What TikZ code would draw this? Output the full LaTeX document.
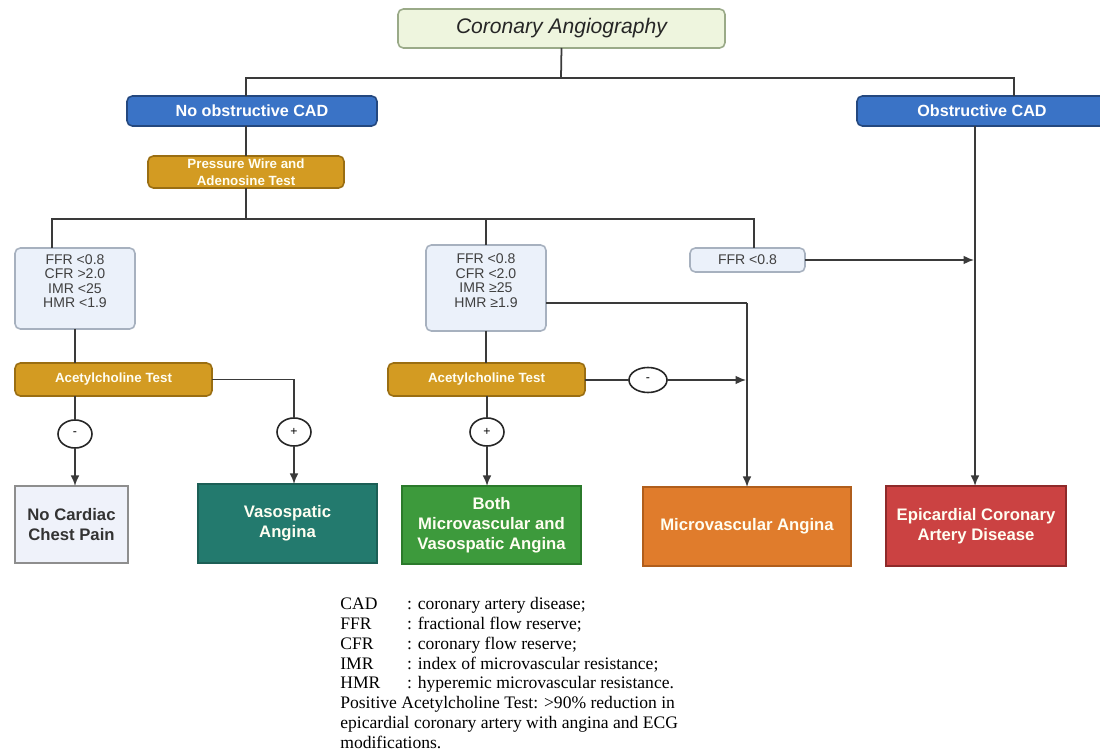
\documentclass[tikz,border=0pt]{standalone}
\usepackage{fontspec}
\setmainfont{Liberation Sans}
\newfontfamily\legendfont{Liberation Serif}
\usetikzlibrary{arrows.meta,shapes.geometric}
\definecolor{linec}{HTML}{3A3A3A}
\definecolor{angfill}{HTML}{EEF5DE}
\definecolor{angdraw}{HTML}{9AAA88}
\definecolor{bluefill}{HTML}{3A73C6}
\definecolor{bluedraw}{HTML}{24487F}
\definecolor{goldfill}{HTML}{D39B22}
\definecolor{golddraw}{HTML}{9A6E12}
\definecolor{lightfill}{HTML}{EBF1FA}
\definecolor{lightdraw}{HTML}{A7B1BF}
\definecolor{ncfill}{HTML}{EFF2FA}
\definecolor{ncdraw}{HTML}{8E8E8E}
\definecolor{tealfill}{HTML}{237A6E}
\definecolor{tealdraw}{HTML}{1C5F56}
\definecolor{greenfill}{HTML}{3D9A3C}
\definecolor{greendraw}{HTML}{2B7A2B}
\definecolor{orangefill}{HTML}{E07C2C}
\definecolor{orangedraw}{HTML}{B05E1C}
\definecolor{redfill}{HTML}{CB4242}
\definecolor{reddraw}{HTML}{8E2A2A}
\def\pxu{0.02cm}
\tikzset{
  box/.style={inner sep=0pt, outer sep=0pt, line width=0.9pt, align=center},
  angbox/.style={box, fill=angfill, draw=angdraw, rounded corners=3pt, font=\fontsize{12}{14}\selectfont\itshape, text=black!85},
  bluebox/.style={box, fill=bluefill, draw=bluedraw, rounded corners=3pt, text=white, font=\fontsize{9.2}{11}\selectfont\bfseries},
  goldbox/.style={box, fill=goldfill, draw=golddraw, rounded corners=3pt, text=white!95!yellow, font=\fontsize{7.6}{9.5}\selectfont\bfseries},
  lightbox/.style={box, fill=lightfill, draw=lightdraw, rounded corners=3pt, text=black!75, font=\fontsize{8}{8.3}\selectfont},
  resbox/.style={box, font=\fontsize{9.5}{11.4}\selectfont\bfseries, text=white!95!yellow},
  signc/.style={ellipse, draw=black!85, line width=0.9pt, fill=white, inner sep=0pt, outer sep=0pt, minimum width=34*\pxu, minimum height=28*\pxu, font=\fontsize{7}{8}\selectfont},
  conn/.style={draw=linec, line width=1pt},
  arr/.style={conn, -{Latex[length=6pt,width=5pt]}},
}
\begin{document}
\begin{tikzpicture}[x=0.02cm,y=-0.02cm]
\useasboundingbox (0,0) rectangle (1100,753);
% nodes
\node[angbox, minimum width=327*\pxu, minimum height=39*\pxu] (angio) at (561.5,28.5) {Coronary Angiography};
\node[bluebox, minimum width=250*\pxu, minimum height=30*\pxu] (noobs) at (252,111) {No obstructive CAD};
\node[bluebox, minimum width=250*\pxu, minimum height=30*\pxu] (obs) at (982,111) {Obstructive CAD};
\node[goldbox, minimum width=196*\pxu, minimum height=32*\pxu] (pw) at (246,172) {Pressure Wire and\\Adenosine Test};
\node[lightbox, minimum width=120*\pxu, minimum height=81*\pxu] (b1) at (75,288.5) {FFR <0.8\\CFR >2.0\\IMR <25\\HMR <1.9\\[0pt]};
\node[lightbox, minimum width=120*\pxu, minimum height=86*\pxu] (b2) at (486,288) {FFR <0.8\\CFR <2.0\\IMR ≥25\\HMR ≥1.9\\[0pt]};
\node[lightbox, minimum width=115*\pxu, minimum height=24*\pxu] (b3) at (747.5,260) {FFR <0.8};
\node[goldbox, minimum width=197*\pxu, minimum height=33*\pxu] (ach1) at (113.5,379.5) {Acetylcholine Test};
\node[goldbox, minimum width=197*\pxu, minimum height=33*\pxu] (ach2) at (486.5,379.5) {Acetylcholine Test};
\node[signc] (c1) at (75,434) {-};
\node[signc] (c2) at (294,432) {+};
\node[signc] (c3) at (487,432) {+};
\node[signc, minimum width=38*\pxu, minimum height=25*\pxu] (c4) at (648,380) {-};
\node[resbox, fill=ncfill, draw=ncdraw, text=black!80, minimum width=113*\pxu, minimum height=77*\pxu] (nocard) at (71.5,524.5) {No Cardiac\\Chest Pain};
\node[resbox, fill=tealfill, draw=tealdraw, minimum width=179*\pxu, minimum height=79*\pxu] (vaso) at (287.5,523.5) {Vasospatic\\Angina};
\node[resbox, fill=greenfill, draw=greendraw, minimum width=179*\pxu, minimum height=78*\pxu] (both) at (491.5,525) {Both\\Microvascular and\\Vasospatic Angina};
\node[resbox, fill=orangefill, draw=orangedraw, minimum width=208*\pxu, minimum height=79*\pxu] (micro) at (747,526.5) {Microvascular Angina};
\node[resbox, fill=redfill, draw=reddraw, minimum width=180*\pxu, minimum height=80*\pxu] (epi) at (976,526) {Epicardial Coronary\\Artery Disease};
% junctions
\coordinate (jA) at (561,78);
\coordinate (jL) at (246,78);
\coordinate (jR) at (1014,78);
\coordinate (jB) at (246,219);
\coordinate (jB1) at (52,219);
\coordinate (jB3) at (754,219);
\coordinate (jM) at (747,303);
\coordinate (jE) at (975,300);
% connectors
\draw[conn] (angio.south) -- (jA);
\draw[conn] (noobs.north -| jL) -- (jL) -- (jR) -- (obs.north -| jR);
\draw[conn] (noobs.south -| pw) -- (pw.north);
\draw[conn] (pw.south) -- (jB);
\draw[conn] (b1.north -| jB1) -- (jB1) -- (jB3) -- (b3.north -| jB3);
\draw[conn] (b2.north) -- (b2.north |- jB);
\draw[conn] (b1.south) -- (b1.south |- ach1.north);
\draw[conn] (ach1.south -| c1) -- (c1);
\draw[arr] (c1) -- (nocard.north -| c1);
\draw[conn] (ach1.east) -- (ach1.east -| c2) -- (c2);
\draw[arr] (c2) -- (vaso.north -| c2);
\draw[conn] (b2.south) -- (b2.south |- ach2.north);
\draw[conn] (ach2.south -| c3) -- (c3);
\draw[arr] (c3) -- (both.north -| c3);
\draw[conn] (b2.east |- jM) -- (jM);
\draw[arr] (jM) -- (micro.north -| jM);
\draw[conn] (c4 -| ach2.east) -- (c4);
\draw[arr] (c4) -- ([xshift=-0.5pt]c4 -| jM);
\draw[arr] (obs.south -| jE) -- (epi.north -| jE);
\draw[arr] (b3.east) -- ([xshift=-0.5pt]b3.east -| jE);
% legend
\node[anchor=north west, inner sep=0pt, align=left, font=\legendfont\fontsize{10}{11.3}\selectfont] (legend) at (340,597) {%
\makebox[38pt][l]{CAD}: coronary artery disease;\\
\makebox[38pt][l]{FFR}: fractional flow reserve;\\
\makebox[38pt][l]{CFR}: coronary flow reserve;\\
\makebox[38pt][l]{IMR}: index of microvascular resistance;\\
\makebox[38pt][l]{HMR}: hyperemic microvascular resistance.\\
Positive Acetylcholine Test: >90\% reduction in\\
epicardial coronary artery with angina and ECG\\
modifications.};
\end{tikzpicture}
\end{document}
